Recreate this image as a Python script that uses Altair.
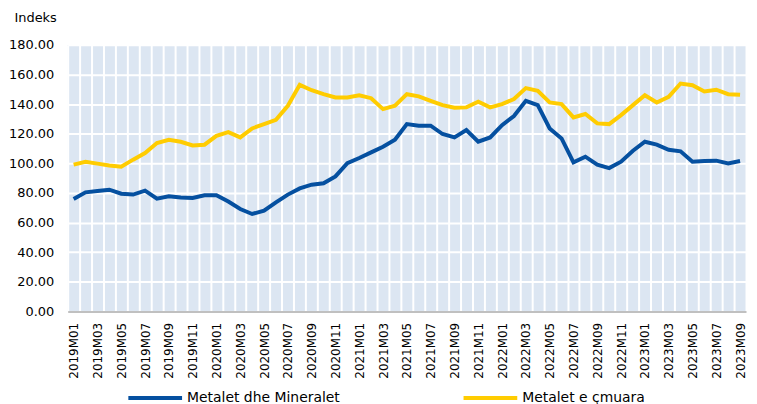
import altair as alt
import pandas as pd

years = ["2019", "2020", "2021", "2022", "2023"]
months = [f"{y}M{m:02d}" for y in years for m in range(1, 13)][:57]

series_names = ["Metalet dhe Mineralet", "Metalet e çmuara"]
series_colors = ["#0550A0", "#FFCC00"]

metalet_mineralet = [
    75.9, 80.4, 81.3, 82.2, 79.5, 78.9, 81.6, 76.2, 77.7, 77.0, 76.6, 78.4,
    78.4, 74.2, 69.2, 65.8, 68.1, 73.7, 78.9, 83.1, 85.6, 86.5, 91.2, 100.2,
    103.6, 107.4, 111.2, 115.9, 126.5, 125.4, 125.4, 119.8, 117.5, 122.5, 114.6, 117.5,
    125.8, 132.0, 142.2, 139.3, 123.6, 116.8, 100.7, 104.5, 99.1, 96.8, 101.1, 108.5,
    114.6, 112.6, 109.2, 108.1, 101.1, 101.6, 101.8, 100.0, 101.6,
]
metalet_cmuara = [
    99.1, 101.1, 99.8, 98.6, 97.7, 102.5, 107.0, 113.7, 115.9, 114.6, 112.1, 112.6,
    118.6, 121.1, 117.5, 123.6, 126.5, 129.4, 138.9, 153.0, 149.4, 146.7, 144.5, 144.5,
    146.0, 144.0, 136.6, 138.9, 146.7, 145.2, 142.2, 139.3, 137.5, 137.8, 141.6, 137.8,
    140.0, 143.4, 150.8, 149.0, 141.1, 140.0, 131.0, 133.3, 127.0, 126.5, 132.6, 139.3,
    146.0, 141.1, 144.9, 153.9, 152.8, 148.5, 149.7, 146.7, 146.3,
]
y_ticks = [0, 20, 40, 60, 80, 100, 120, 140, 160, 180]

rows = []
for name, vals in zip(series_names, [metalet_mineralet, metalet_cmuara]):
    for m, v in zip(months, vals):
        rows.append({"Muaji": m, "Seria": name, "Vlera": v})
df = pd.DataFrame(rows)

FONT = "DejaVu Sans"

chart = alt.Chart(df).mark_line(strokeWidth=4).encode(
    x=alt.X(
        "Muaji:O",
        sort=months,
        scale=alt.Scale(domain=months, paddingInner=0, paddingOuter=0),
        axis=alt.Axis(
            title=None,
            tickBand="extent",
            grid=True,
            gridColor="white",
            gridWidth=2,
            ticks=False,
            labelAngle=-90,
            labelFont=FONT,
            labelFontSize=12,
            labelColor="#000000",
            labelPadding=11,
            labelOverlap=False,
            labelExpr="toNumber(substring(datum.value, 5, 7)) % 2 == 1 ? datum.value : ''",
            domainColor="#C0C0C0",
            domainWidth=2,
        ),
    ),
    y=alt.Y(
        "Vlera:Q",
        scale=alt.Scale(domain=[0, 180], nice=False),
        axis=alt.Axis(
            values=y_ticks,
            format=".2f",
            title="Indeks",
            titleAngle=0,
            titleAlign="left",
            titleBaseline="middle",
            titleX=-54,
            titleY=-27,
            titleFont=FONT,
            titleFontSize=13,
            titleFontWeight="normal",
            titleColor="#000000",
            labelFont=FONT,
            labelFontSize=13,
            labelColor="#000000",
            labelPadding=14,
            grid=True,
            gridColor="white",
            gridWidth=2,
            ticks=False,
            domain=False,
        ),
    ),
    color=alt.Color(
        "Seria:N",
        sort=series_names,
        scale=alt.Scale(domain=series_names, range=series_colors),
        legend=alt.Legend(
            title=None,
            orient="none",
            direction="horizontal",
            legendX=59,
            legendY=326,
            padding=0,
            symbolType="M-1,0H1",
            symbolSize=2916,
            symbolStrokeWidth=4,
            labelFont=FONT,
            labelFontSize=14,
            labelColor="#000000",
            labelOffset=3,
            columnPadding=116,
            labelLimit=300,
        ),
    ),
).properties(
    width=682,
    height=268,
    padding={"left": 0, "top": 3, "right": 0, "bottom": 0},
).configure_view(
    fill="#DCE6F2",
    strokeWidth=0,
)

chart.save("out.html", embed_options={"renderer": "svg", "actions": False})
